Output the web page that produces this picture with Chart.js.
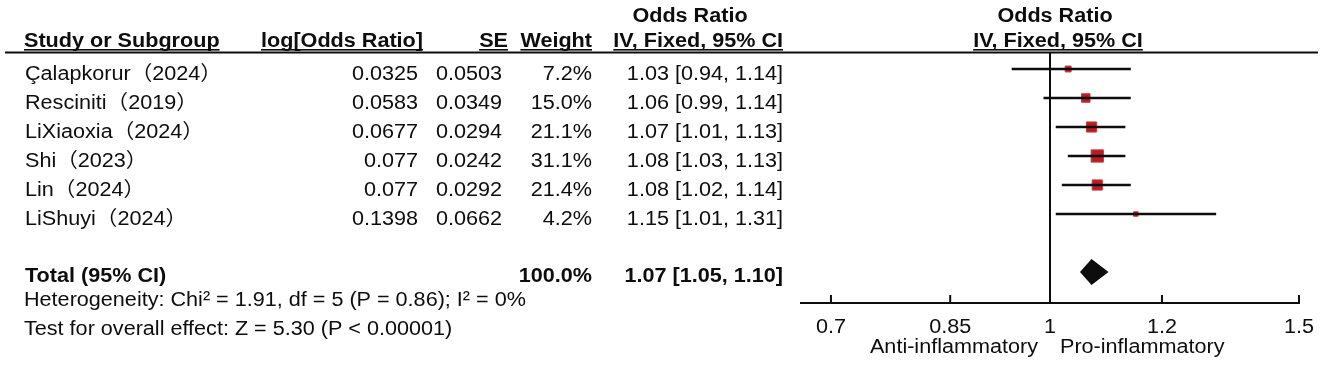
<!DOCTYPE html>
<html>
<head>
<meta charset="utf-8">
<script src="https://cdn.jsdelivr.net/npm/chart.js@4.4.1/dist/chart.umd.min.js"></script>
<style>
  html, body { margin: 0; padding: 0; background: #fff; }
  #wrap { width: 1325px; height: 367px; }
</style>
</head>
<body>
<div id="wrap"><canvas id="forest" width="1325" height="367"></canvas></div>
<script>
// data
const studies  = ['Çalapkorur（2024）', 'Resciniti（2019）', 'LiXiaoxia（2024）', 'Shi（2023）', 'Lin（2024）', 'LiShuyi（2024）'];
const logOR    = [0.0325, 0.0583, 0.0677, 0.077, 0.077, 0.1398];
const seVals   = [0.0503, 0.0349, 0.0294, 0.0242, 0.0292, 0.0662];
const weights  = [7.2, 15.0, 21.1, 31.1, 21.4, 4.2];
const orVals   = [1.03, 1.06, 1.07, 1.08, 1.08, 1.15];
const ciLow    = [0.94, 0.99, 1.01, 1.03, 1.02, 1.01];
const ciHigh   = [1.14, 1.14, 1.13, 1.13, 1.14, 1.31];
const totalOR  = [1.07, 1.05, 1.10];   // estimate, lower, upper
const totalWeight = 100.0;
const xTicks      = [0.7, 0.85, 1, 1.2, 1.5];
const xTickLabels = ['0.7', '0.85', '1', '1.2', '1.5'];
const heteroText  = 'Heterogeneity: Chi² = 1.91, df = 5 (P = 0.86); I² = 0%';
const effectText  = 'Test for overall effect: Z = 5.30 (P < 0.00001)';
const leftLabel   = 'Anti-inflammatory';
const rightLabel  = 'Pro-inflammatory';

const TOTAL_ROW = 7;
const FONT = '"Liberation Sans", Arial, "Noto Sans CJK SC", sans-serif';
const SX = 1.08;          // the source text is a little wide
const INK = '#0d0d0d';
const BOX_RED = '#b81d25';

// stretched text helper
function txt(ctx, s, x, y, align, bold, underline) {
  ctx.save();
  ctx.font = (bold ? 'bold ' : '') + '20px ' + FONT;
  ctx.translate(x, y);
  ctx.scale(SX, 1);
  ctx.textAlign = align || 'left';
  ctx.textBaseline = 'alphabetic';
  ctx.fillStyle = INK;
  ctx.fillText(s, 0, 0);
  if (underline) {
    const w = ctx.measureText(s).width;
    const x0 = align === 'right' ? -w : (align === 'center' ? -w / 2 : 0);
    ctx.fillRect(x0, 2, w, 1.6);
  }
  ctx.restore();
}

const f2 = v => v.toFixed(2);
const ciText = (o, l, h) => f2(o) + ' [' + f2(l) + ', ' + f2(h) + ']';

const forestPlugin = {
  id: 'forest',
  beforeDatasetsDraw(chart) {
    const { ctx, chartArea } = chart;
    const xs = chart.scales.x;
    ctx.save();
    ctx.fillStyle = INK;
    // header rule
    ctx.fillRect(5, 51.5, 1313, 2);
    // line of no effect
    const x1 = xs.getPixelForValue(1);
    ctx.fillRect(x1 - 1, 52, 2, chartArea.bottom - 52);
    ctx.restore();
  },
  afterDatasetsDraw(chart) {
    const { ctx, chartArea } = chart;
    const xs = chart.scales.x, ys = chart.scales.y;
    ctx.save();

    // pooled diamond
    const yT = ys.getPixelForValue(TOTAL_ROW);
    ctx.fillStyle = INK;
    ctx.beginPath();
    ctx.moveTo(xs.getPixelForValue(totalOR[1]), yT);
    ctx.lineTo(xs.getPixelForValue(totalOR[0]), yT - 13);
    ctx.lineTo(xs.getPixelForValue(totalOR[2]), yT);
    ctx.lineTo(xs.getPixelForValue(totalOR[0]), yT + 13);
    ctx.closePath();
    ctx.fill();

    // inward tick marks + labels
    const yAx = chartArea.bottom;
    xTicks.forEach((v, i) => {
      const px = xs.getPixelForValue(v);
      ctx.fillRect(px - 1, yAx - 8, 2, 8);
      txt(ctx, xTickLabels[i], px, 333, 'center');
    });
    const x1 = xs.getPixelForValue(1);
    txt(ctx, leftLabel, x1 - 12, 353, 'right');
    txt(ctx, rightLabel, x1 + 10, 353, 'left');

    // headers
    txt(ctx, 'Odds Ratio', 690, 22, 'center', true);
    txt(ctx, 'Odds Ratio', 1055, 22, 'center', true);
    txt(ctx, 'Study or Subgroup', 24, 47, 'left', true, true);
    txt(ctx, 'log[Odds Ratio]', 423, 47, 'right', true, true);
    txt(ctx, 'SE', 508, 47, 'right', true, true);
    txt(ctx, 'Weight', 592, 47, 'right', true, true);
    txt(ctx, 'IV, Fixed, 95% CI', 783, 47, 'right', true, true);
    txt(ctx, 'IV, Fixed, 95% CI', 1058, 47, 'center', true, true);

    // study rows
    studies.forEach((s, i) => {
      const yb = ys.getPixelForValue(i) + 11;
      txt(ctx, s, 25, yb, 'left');
      txt(ctx, String(logOR[i]), 418, yb, 'right');
      txt(ctx, String(seVals[i]), 502, yb, 'right');
      txt(ctx, weights[i].toFixed(1) + '%', 592, yb, 'right');
      txt(ctx, ciText(orVals[i], ciLow[i], ciHigh[i]), 783, yb, 'right');
    });

    // total
    const yTb = yT + 10;
    txt(ctx, 'Total (95% CI)', 25, yTb, 'left', true);
    txt(ctx, totalWeight.toFixed(1) + '%', 592, yTb, 'right', true);
    txt(ctx, ciText(totalOR[0], totalOR[1], totalOR[2]), 783, yTb, 'right', true);
    txt(ctx, heteroText, 24, 306, 'left');
    txt(ctx, effectText, 24, 335, 'left');

    ctx.restore();
  }
};

const ctx = document.getElementById('forest').getContext('2d');
new Chart(ctx, {
  type: 'scatter',
  data: {
    datasets: [
      {
        // confidence intervals as thin floating bars
        type: 'bar',
        indexAxis: 'y',
        data: studies.map((s, i) => ({ x: [ciLow[i], ciHigh[i]], y: i })),
        backgroundColor: INK,
        borderWidth: 0,
        barThickness: 2,
        grouped: false,
        clip: false
      },
      {
        // weighted point estimates
        type: 'scatter',
        data: studies.map((s, i) => ({ x: orVals[i], y: i })),
        pointStyle: 'rect',
        pointRadius: c => 2.2 * Math.sqrt(weights[c.dataIndex]) / Math.SQRT2,
        backgroundColor: BOX_RED,
        borderColor: '#c9383f',
        borderWidth: 1,
        clip: false
      }
    ]
  },
  options: {
    responsive: false,
    animation: false,
    events: [],
    layout: { padding: { left: 801, right: 26, top: 52, bottom: 64 } },
    plugins: { legend: { display: false }, tooltip: { enabled: false } },
    scales: {
      x: {
        type: 'logarithmic',
        min: 1 / 1.5,
        max: 1.5,
        offset: false,
        grid: { display: false, drawTicks: false },
        ticks: { display: false },
        border: { display: true, color: INK, width: 2 },
        afterBuildTicks: s => { s.ticks = xTicks.map(v => ({ value: v })); }
      },
      y: {
        type: 'linear',
        display: false,
        reverse: true,
        offset: false,
        min: -17 / 29,
        max: -17 / 29 + 251 / 29
      }
    }
  },
  plugins: [forestPlugin]
});
</script>
</body>
</html>
